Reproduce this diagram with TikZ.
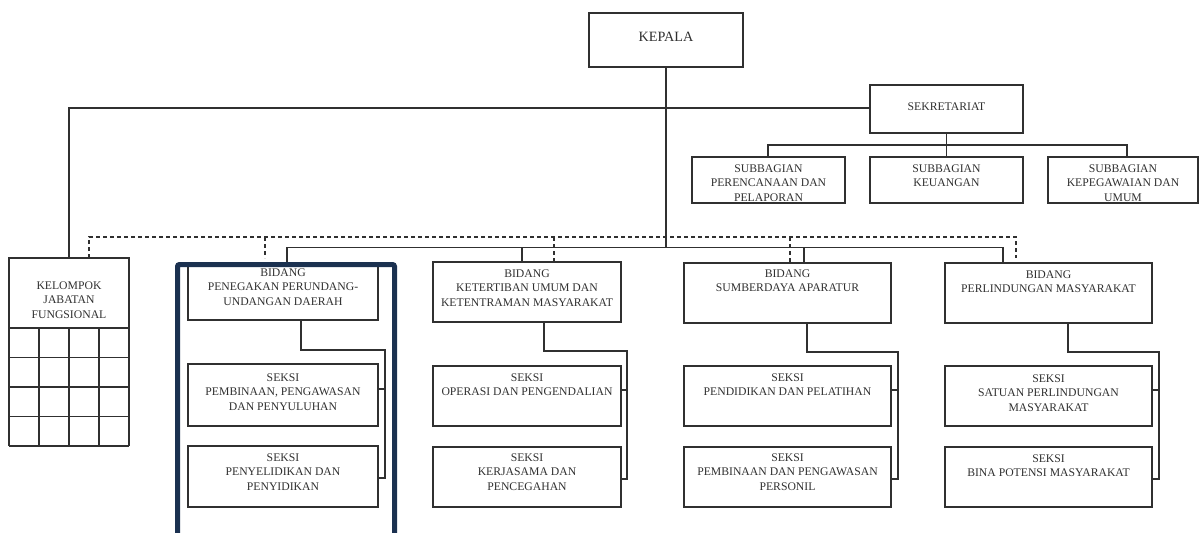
\documentclass[tikz,border=0pt]{standalone}
\usepackage{fontspec}
\setmainfont{Liberation Serif}
\definecolor{navy}{HTML}{1B3150}
\definecolor{ink}{HTML}{303030}
\tikzset{
  x=1pt, y=-1pt,
  box/.style={draw=ink, line width=1.1pt, inner sep=0pt, outer sep=0pt, anchor=north west},
  txt/.style={text=ink, font=\fontsize{11.7}{14.5}\selectfont, align=center, inner sep=0pt, anchor=north},
  conn/.style={draw=ink, line width=1.2pt},
  dashline/.style={draw=ink, line width=1.2pt, dash pattern=on 4pt off 3pt},
  hilite/.style={draw=navy, line width=5pt, rounded corners=2pt}
}
% name, x1, y1, x2, y2, first-line centre y, text
\newcommand\orgbox[7]{%
  \node[box, minimum width={(#4)-(#2)}, minimum height={(#5)-(#3)}] (#1) at (#2,#3) {};
  \node[txt] (#1t) at ({((#2)+(#4))/2},{(#6)-3.9}) {#7};}
\begin{document}
\begin{tikzpicture}
\useasboundingbox (0,0) rectangle (1200,533);
\fill[white] (0,0) rectangle (1200,533);

% top
\node[box, minimum width=154, minimum height=54] (kepala) at (589,13) {};
\node[txt, font=\fontsize{14.2}{16}\selectfont, anchor=center] (kepalat) at (666,37) {KEPALA};

\orgbox{sek}{870}{85}{1023}{133}{106}{SEKRETARIAT}
\orgbox{sb1}{692}{157}{845}{203}{168}{SUBBAGIAN\\PERENCANAAN DAN\\PELAPORAN}
\orgbox{sb2}{870}{157}{1023}{203}{168}{SUBBAGIAN\\KEUANGAN}
\orgbox{sb3}{1048}{157}{1198}{203}{168}{SUBBAGIAN\\KEPEGAWAIAN DAN\\UMUM}

\orgbox{kjf}{9}{258}{129}{328}{285}{KELOMPOK\\JABATAN\\FUNGSIONAL}

\orgbox{b1}{188}{266}{378}{320}{272}{BIDANG\\PENEGAKAN PERUNDANG-\\UNDANGAN DAERAH}
\orgbox{b2}{433}{262}{621}{322}{273}{BIDANG\\KETERTIBAN UMUM DAN\\KETENTRAMAN MASYARAKAT}
\orgbox{b3}{684}{263}{891}{323}{273}{BIDANG\\SUMBERDAYA APARATUR}
\orgbox{b4}{945}{263}{1152}{323}{274}{BIDANG\\PERLINDUNGAN MASYARAKAT}

\orgbox{s11}{188}{364}{378}{426}{377}{SEKSI\\PEMBINAAN, PENGAWASAN\\DAN PENYULUHAN}
\orgbox{s12}{188}{446}{378}{507}{457}{SEKSI\\PENYELIDIKAN DAN\\PENYIDIKAN}
\orgbox{s21}{433}{366}{621}{426}{377}{SEKSI\\OPERASI DAN PENGENDALIAN}
\orgbox{s22}{433}{447}{621}{507}{457}{SEKSI\\KERJASAMA DAN\\PENCEGAHAN}
\orgbox{s31}{684}{366}{891}{426}{377}{SEKSI\\PENDIDIKAN DAN PELATIHAN}
\orgbox{s32}{684}{447}{891}{507}{457}{SEKSI\\PEMBINAAN DAN PENGAWASAN\\PERSONIL}
\orgbox{s41}{945}{366}{1152}{426}{378}{SEKSI\\SATUAN PERLINDUNGAN\\MASYARAKAT}
\orgbox{s42}{945}{447}{1152}{507}{458}{SEKSI\\BINA POTENSI MASYARAKAT}

% grid under kelompok jabatan fungsional
\foreach \i in {0,...,4} {
  \draw[conn] ({9+30*\i},328) -- ({9+30*\i},446);
  \draw[conn] (9,{328+29.5*\i}) -- (129,{328+29.5*\i});
}

% connectors
\coordinate (busK) at (666,247.5);
\draw[conn] (kepala.south) -- (busK);
\draw[conn] (kjf.north -| 69,0) -- (69,108) -- (sek.west |- 0,108);
\draw[conn] (sek.south) -- (sb2.north);
\draw[conn] (sb1.north -| 768,0) |- (1127,145) -- (sb3.north -| 1127,0);

\draw[conn] (b1.north -| 287,0) |- (1003,247.5) -- (b4.north -| 1003,0);
\draw[conn] (522,247.5) -- (b2.north -| 522,0);
\draw[conn] (804,247.5) -- (b3.north -| 804,0);

\draw[dashline] (kjf.north -| 89,0) |- (1016,237) -- (1016,258);
\draw[dashline] (265,237) -- (265,258);
\draw[dashline] (554,237) -- (b2.north -| 554,0);
\draw[dashline] (790,237) -- (b3.north -| 790,0);

\draw[conn] (b1.south -| 301,0) |- (385,350) |- (s12.east |- 0,478);
\draw[conn] (385,389) -- (s11.east |- 0,389);
\draw[conn] (b2.south -| 544,0) |- (627,351) |- (s22.east |- 0,479);
\draw[conn] (627,390) -- (s21.east |- 0,390);
\draw[conn] (b3.south -| 807,0) |- (898,352) |- (s32.east |- 0,479);
\draw[conn] (898,390) -- (s31.east |- 0,390);
\draw[conn] (b4.south -| 1068,0) |- (1159,352) |- (s42.east |- 0,479);
\draw[conn] (1159,390) -- (s41.east |- 0,390);

% highlight frame
\draw[hilite] (177.5,533) -- (177.5,264.5) -- (394.5,264.5) -- (394.5,533);
\end{tikzpicture}
\end{document}
